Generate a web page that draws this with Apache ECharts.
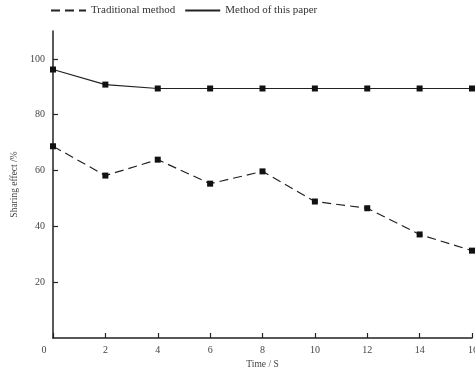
<!DOCTYPE html>
<html>
<head>
<meta charset="utf-8">
<script src="https://cdn.jsdelivr.net/npm/echarts@6/dist/echarts.min.js"></script>
<style>html,body{margin:0;padding:0;background:#fff;}#c{width:475px;height:377px;}</style>
</head>
<body>
<div id="c"></div>
<script>
var timeValues = [0, 2, 4, 6, 8, 10, 12, 14, 16];
var traditional = [68.7, 58.2, 63.9, 55.3, 59.7, 48.9, 46.5, 37.1, 31.3];
var thisPaper = [96.2, 90.8, 89.4, 89.4, 89.4, 89.4, 89.4, 89.4, 89.4];
var yTicks = [20, 40, 60, 80, 100];
var xTicks = [0, 2, 4, 6, 8, 10, 12, 14, 16];
var seriesNames = ['Traditional method', 'Method of this paper'];

function pairs(ys) { return timeValues.map(function (x, i) { return [x, ys[i]]; }); }

var font = 'Liberation Serif';
var chart = echarts.init(document.getElementById('c'), null, {renderer: 'canvas'});
chart.setOption({
  animation: false,
  backgroundColor: '#fff',
  textStyle: {fontFamily: font},
  legend: {
    left: 50, top: 5, padding: 0,
    itemWidth: 35, itemHeight: 10, itemGap: 9,
    data: seriesNames,
    textStyle: {fontFamily: font, fontSize: 11, color: '#333'},
    itemStyle: {color: 'rgba(0,0,0,0)', borderWidth: 0}
  },
  grid: {left: 53, right: 3, top: 31, bottom: 39, containLabel: false, outerBoundsMode: 'none'},
  xAxis: {
    type: 'value', min: 0, max: 16, interval: 2,
    name: 'Time / S', nameLocation: 'middle', nameGap: 19,
    nameTextStyle: {fontFamily: font, fontSize: 9.5, color: '#444'},
    axisLine: {lineStyle: {color: '#222', width: 1.5}},
    axisTick: {inside: true, length: 5, lineStyle: {color: '#222', width: 1.2}, customValues: xTicks},
    axisLabel: {
      customValues: xTicks,
      margin: 7, fontFamily: font, fontSize: 10, color: '#444',
      hideOverlap: false,
      formatter: function (v) { return v === 0 ? '{z|0}' : (v === 16 ? '{e|16}' : String(v)); },
      rich: {
        z: {fontFamily: font, fontSize: 10, color: '#444', padding: [0, 18, 0, 0]},
        e: {fontFamily: font, fontSize: 10, color: '#444', padding: [0, 0, 0, 2]}
      }
    },
    splitLine: {show: false}
  },
  yAxis: {
    type: 'value', min: 0, max: 110, interval: 20,
    name: 'Sharing effect /%', nameLocation: 'middle', nameGap: 34,
    nameTextStyle: {fontFamily: font, fontSize: 9.5, color: '#444'},
    axisLine: {show: true, lineStyle: {color: '#222', width: 1.5}},
    axisTick: {show: true, inside: true, length: 5, lineStyle: {color: '#222', width: 1.2}, customValues: yTicks},
    axisLabel: {customValues: yTicks, margin: 8, fontFamily: font, fontSize: 10, color: '#444'},
    splitLine: {show: false}
  },
  series: [
    {
      name: seriesNames[0], type: 'line', data: pairs(traditional),
      symbol: 'rect', symbolSize: 6, showAllSymbol: true,
      lineStyle: {color: '#222', width: 1.2, type: [9, 5]},
      itemStyle: {color: '#111'}
    },
    {
      name: seriesNames[1], type: 'line', data: pairs(thisPaper),
      symbol: 'rect', symbolSize: 6, showAllSymbol: true,
      lineStyle: {color: '#222', width: 1.2, type: 'solid'},
      itemStyle: {color: '#111'}
    }
  ]
});
</script>
</body>
</html>
